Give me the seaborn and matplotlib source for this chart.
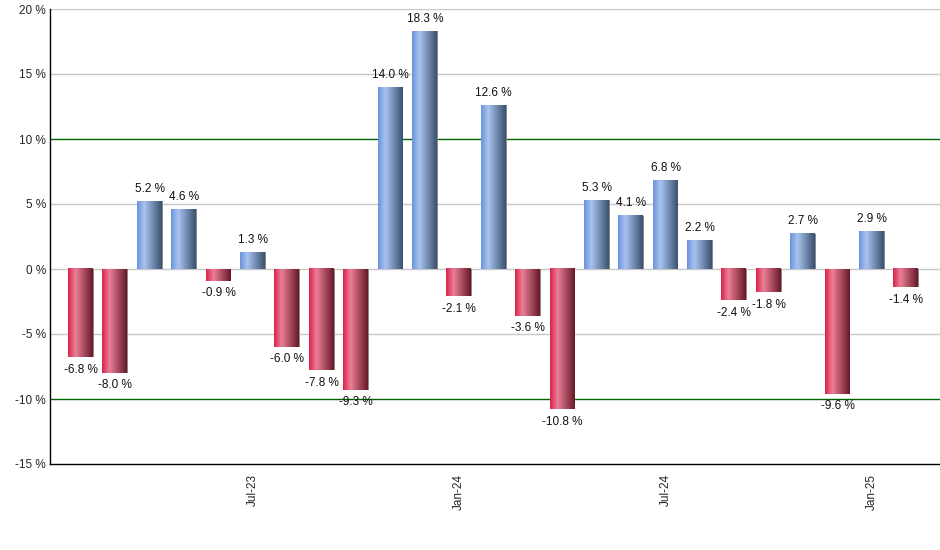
import numpy as np
import pandas as pd
import matplotlib
matplotlib.use("Agg")
import matplotlib.pyplot as plt
from matplotlib.colors import LinearSegmentedColormap
import seaborn as sns

months = ["Feb-23", "Mar-23", "Apr-23", "May-23", "Jun-23", "Jul-23", "Aug-23",
          "Sep-23", "Oct-23", "Nov-23", "Dec-23", "Jan-24", "Feb-24", "Mar-24",
          "Apr-24", "May-24", "Jun-24", "Jul-24", "Aug-24", "Sep-24", "Oct-24",
          "Nov-24", "Dec-24", "Jan-25", "Feb-25"]
returns = [-6.8, -8.0, 5.2, 4.6, -0.9, 1.3, -6.0, -7.8, -9.3, 14.0, 18.3, -2.1,
           12.6, -3.6, -10.8, 5.3, 4.1, 6.8, 2.2, -2.4, -1.8, 2.7, -9.6, 2.9, -1.4]
tick_months = ["Jul-23", "Jan-24", "Jul-24", "Jan-25"]
y_ticks = [-15, -10, -5, 0, 5, 10, 15, 20]

df = pd.DataFrame({"month": months, "ret": returns})

sns.set_style("white")
plt.rcParams["font.family"] = ["Liberation Sans", "DejaVu Sans"]

fig = plt.figure(figsize=(9.4, 5.5), dpi=100)
ax = fig.add_axes([50 / 940, 86 / 550, 890 / 940, 455 / 550])

sns.barplot(data=df, x="month", y="ret", color="#8a8a8a", width=0.75,
            saturation=1, ax=ax, zorder=2)

blue = LinearSegmentedColormap.from_list(
    "b", [(0, "#6a93dc"), (0.3, "#a9c3ef"), (1, "#39506f")])
red = LinearSegmentedColormap.from_list(
    "r", [(0, "#d9214a"), (0.3, "#ec7f97"), (1, "#661828")])
grad = np.linspace(0, 1, 256).reshape(1, -1)

for patch, v in zip(ax.patches, returns):
    x0 = patch.get_x()
    w = patch.get_width()
    y0 = patch.get_y()
    h = patch.get_height()
    patch.set_edgecolor("none")
    ax.imshow(grad, cmap=blue if v >= 0 else red, aspect="auto",
              extent=(x0, x0 + w - 0.05, min(y0, y0 + h), max(y0, y0 + h)),
              zorder=3, interpolation="bilinear")
    if v >= 0:
        ax.text(x0 + w / 2, v + 0.5, f"{v:.1f} %", ha="center", va="bottom",
                fontsize=8.5, color="#111111")
    else:
        ax.text(x0 + w / 2, v - 0.5, f"{v:.1f} %", ha="center", va="top",
                fontsize=8.5, color="#111111")

ax.set_xlim(-0.9, len(months) - 0.02)
ax.set_ylim(-15, 20)
ax.set_yticks(y_ticks)
ax.set_yticklabels([f"{t} %" for t in y_ticks], fontsize=8.5)
for t in y_ticks:
    if t in (-15,):
        continue
    col = "#006400" if abs(t) == 10 else "#c8c8c8"
    ax.axhline(t, color=col, lw=1, zorder=1)

ax.set_xticks([months.index(m) for m in tick_months])
ax.set_xticklabels(tick_months, rotation=90, fontsize=8.5)
ax.tick_params(axis="x", length=5, width=1, color="black", pad=2)
ax.tick_params(axis="y", length=0, pad=3)
ax.set_xlabel("")
ax.set_ylabel("")

for s in ["top", "right"]:
    ax.spines[s].set_visible(False)
for s in ["left", "bottom"]:
    ax.spines[s].set_color("black")
    ax.spines[s].set_linewidth(1)

fig.savefig("out.png", dpi=100)
